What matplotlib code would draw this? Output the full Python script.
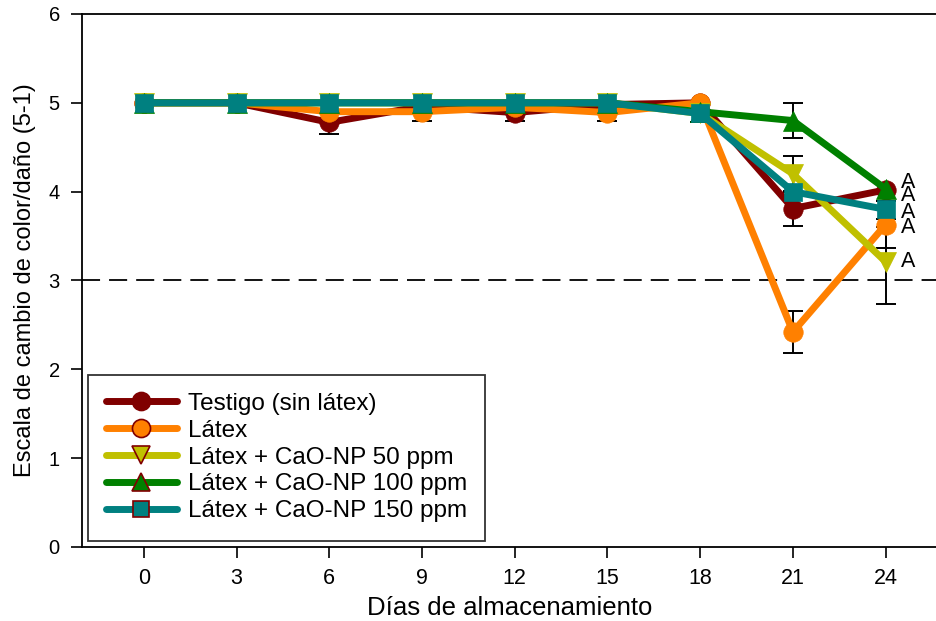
import matplotlib
matplotlib.use("Agg")
import matplotlib.pyplot as plt
from matplotlib.lines import Line2D

days = [0, 3, 6, 9, 12, 15, 18, 21, 24]
labels = ["Testigo (sin látex)", "Látex", "Látex + CaO-NP 50 ppm",
          "Látex + CaO-NP 100 ppm", "Látex + CaO-NP 150 ppm"]
testigo = [5.0, 5.0, 4.78, 4.96, 4.89, 4.98, 5.0, 3.81, 4.02]
testigo_err = [0, 0, 0.13, 0, 0.1, 0, 0, 0.2, 0.0]
latex = [5.0, 5.0, 4.9, 4.9, 4.95, 4.89, 5.0, 2.42, 3.63]
latex_err = [0, 0, 0, 0.1, 0, 0.1, 0, 0.24, 0.27]
cao50 = [5.0, 5.0, 5.0, 5.0, 5.0, 5.0, 4.88, 4.2, 3.21]
cao50_err = [0, 0, 0, 0, 0, 0, 0, 0.2, 0.48]
cao100 = [5.0, 5.0, 5.0, 5.0, 5.0, 5.0, 4.9, 4.8, 4.03]
cao100_err = [0, 0, 0, 0, 0, 0, 0, 0.2, 0]
cao150 = [5.0, 5.0, 5.0, 5.0, 5.0, 5.0, 4.88, 4.0, 3.8]
cao150_err = [0, 0, 0, 0, 0, 0, 0.1, 0, 0.2]
letters = ["A", "A", "A", "A", "A"]
letter_y = [4.1, 3.96, 3.77, 3.6, 3.21]

series = [testigo, latex, cao50, cao100, cao150]
errs = [testigo_err, latex_err, cao50_err, cao100_err, cao150_err]
colors = ["#800000", "#FF8000", "#C0C000", "#008000", "#008080"]
markers = ["o", "o", "v", "^", "s"]
msizes = [14, 14, 14, 14, 13]

plt.rcParams['font.family'] = ['Liberation Sans', 'DejaVu Sans']
fig = plt.figure(figsize=(9.37, 6.21), dpi=100)
ax = fig.add_axes([0.0875, 0.1192, 0.9125, 0.8583])

ax.axhline(3, color="black", lw=1.3, ls=(0, (10, 5)), zorder=1)

for y, e in zip(series, errs):
    xs = [d for d, v in zip(days, e) if v > 0]
    ys = [v for v, ee in zip(y, e) if ee > 0]
    es = [ee for ee in e if ee > 0]
    ax.errorbar(xs, ys, yerr=es, fmt="none", ecolor="black", elinewidth=1.4,
                capsize=7, capthick=1.4, zorder=2)

handles = []
for y, c, m, ms, lab in zip(series, colors, markers, msizes, labels):
    ax.plot(days, y, color=c, lw=5, marker=m, markersize=ms,
            markerfacecolor=c, markeredgecolor=c, markeredgewidth=0.5,
            zorder=3, solid_capstyle="round")
    handles.append(Line2D([], [], color=c, lw=5, marker=m, markersize=ms - 1,
                          markerfacecolor=c, markeredgecolor="#800000",
                          markeredgewidth=1.2, solid_capstyle="round", label=lab))

for t, ly in zip(letters, letter_y):
    ax.text(24.5, ly, t, fontsize=15.5, ha="left", va="center")

ax.set_xlim(-2, 25.66)
ax.set_ylim(0, 6)
ax.set_xticks(days)
ax.set_xticklabels([str(d) for d in days])
ax.set_yticks(range(0, 7))
ax.tick_params(axis="x", labelsize=15.5, pad=7)
ax.tick_params(axis="y", labelsize=14.5, pad=8)
ax.tick_params(direction="out", length=8, width=1.2)
ax.spines["right"].set_visible(False)
for s in ["left", "bottom", "top"]:
    ax.spines[s].set_linewidth(1.3)

ax.set_xlabel("Días de almacenamiento", fontsize=18.5, labelpad=5)
ax.set_ylabel("Escala de cambio de color/daño (5-1)", fontsize=17, labelpad=9)

leg = ax.legend(handles=handles, loc="lower left", bbox_to_anchor=(0.007, 0.012),
                fontsize=17.5, frameon=True, fancybox=False, edgecolor="black",
                handlelength=2.9, borderpad=0.75, labelspacing=0.2,
                handletextpad=0.45, borderaxespad=0)
leg.get_frame().set_linewidth(1.3)

fig.savefig("out.png", dpi=100)
